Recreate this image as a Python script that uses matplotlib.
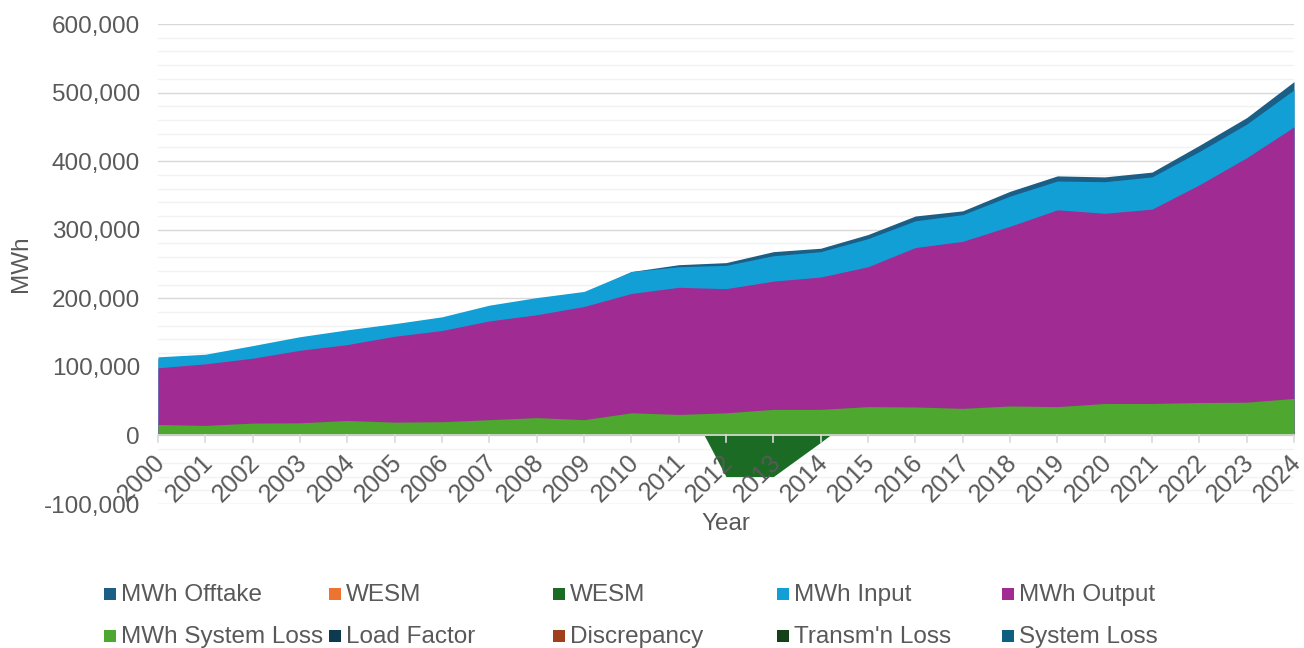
import numpy as np
import matplotlib
matplotlib.use("Agg")
import matplotlib.pyplot as plt
from matplotlib.patches import Rectangle
from matplotlib.ticker import MultipleLocator, FuncFormatter
from matplotlib.transforms import ScaledTranslation

years = np.arange(2000, 2025)

# overlapping (not stacked) areas, drawn in series order
mwh_offtake = [112000, 116000, 128000, 140000, 151000, 162000, 170000, 187000, 198000, 208000,
               239000, 249000, 252000, 268000, 273000, 293000, 320000, 327500, 356000, 378500,
               377000, 384000, 423000, 463500, 516000]
wesm_green = [np.nan] * 11 + [71000, -60000, -60000, -10000, 42000] + [np.nan] * 9
mwh_input = [114600, 118400, 131000, 144000, 154000, 163000, 173000, 190000, 201000, 210000,
             239000, 246000, 248000, 262000, 268000, 287000, 313000, 322000, 349000, 371000,
             370000, 377000, 414000, 454000, 504000]
mwh_output = [98600, 104400, 112600, 124200, 132500, 144600, 153000, 167000, 176000, 188000,
              207000, 216000, 214000, 225000, 231000, 246000, 274000, 283000, 305000, 329000,
              324000, 330000, 365500, 405000, 450000]
mwh_system_loss = [16000, 14600, 18000, 18400, 21800, 19400, 20000, 23000, 26000, 23000,
                   33000, 30600, 33000, 38000, 38000, 42000, 41500, 39500, 43000, 42000,
                   46600, 46600, 48000, 48500, 54000]

series_names = ["MWh Offtake", "WESM", "WESM", "MWh Input", "MWh Output",
                "MWh System Loss", "Load Factor", "Discrepancy", "Transm'n Loss", "System Loss"]
series_colors = ["#1B5E86", "#ED7331", "#1B6B25", "#129FD6", "#A02B93",
                 "#4EA72E", "#0E3A50", "#A0401A", "#164019", "#0F5F80"]

plt.rcParams["font.family"] = ["Liberation Sans", "DejaVu Sans"]
text_color = "#595959"

fig = plt.figure(figsize=(13.04, 6.48), dpi=100)
ax = fig.add_axes([158 / 1304, 1 - 504 / 648, (1294 - 158) / 1304, (504 - 24) / 648])

ax.fill_between(years, 0, mwh_offtake, color=series_colors[0], lw=0, zorder=2)
ax.fill_between(years, 0, wesm_green, color=series_colors[2], lw=0, zorder=2)
ax.fill_between(years, 0, mwh_input, color=series_colors[3], lw=0, zorder=2)
ax.fill_between(years, 0, mwh_output, color=series_colors[4], lw=0, zorder=2)
ax.fill_between(years, 0, mwh_system_loss, color=series_colors[5], lw=0, zorder=2)

ax.set_xlim(2000, 2024)
ax.set_ylim(-100000, 600000)
ax.yaxis.set_major_locator(MultipleLocator(100000))
ax.yaxis.set_minor_locator(MultipleLocator(20000))
ax.yaxis.set_major_formatter(FuncFormatter(lambda v, p: f"{int(v):,}"))
ax.grid(axis="y", which="major", color="#D9D9D9", lw=1.0)
ax.grid(axis="y", which="minor", color="#F2F2F2", lw=1.0)
ax.set_axisbelow(True)
ax.xaxis.set_zorder(5)  # year labels sit over the areas

for s in ax.spines.values():
    s.set_visible(False)
ax.axhline(0, color="#D9D9D9", lw=1.2, zorder=3)

ax.set_xticks(years)
ax.set_xticklabels([str(y) for y in years], rotation=45, ha="right",
                   rotation_mode="anchor", fontsize=18, color=text_color)
ax.tick_params(axis="x", length=0, pad=10)
# tick marks hanging from the zero line
for y in years:
    ax.plot([y, y], [0, -10000], color="#D9D9D9", lw=1.2, zorder=3, clip_on=False)
# move tick labels up to the zero line
shift = ScaledTranslation(-5 / 100, (504 - 436) / 100, fig.dpi_scale_trans)
for lbl in ax.get_xticklabels():
    lbl.set_transform(lbl.get_transform() + shift)

ax.tick_params(axis="y", which="both", length=0, pad=13, labelsize=17.5, labelcolor=text_color)

ax.set_ylabel("MWh", fontsize=17.5, color=text_color, labelpad=8)
fig.text(726 / 1304, 1 - 524 / 648, "Year", fontsize=17.5, color=text_color,
         ha="center", va="center")

# legend, 2 rows x 5 columns
col_x = [104, 329, 553, 777, 1002]
row_y = [595, 637]
for i, (name, col) in enumerate(zip(series_names, series_colors)):
    r, c = divmod(i, 5)
    x0 = col_x[c]
    yc = row_y[r]
    fig.patches.append(Rectangle((x0 / 1304, 1 - (yc + 5) / 648), 12 / 1304, 12 / 648,
                                 transform=fig.transFigure, facecolor=col, edgecolor="none"))
    fig.text((x0 + 17) / 1304, 1 - yc / 648, name, fontsize=17.5, color=text_color,
             ha="left", va="center")

fig.savefig("out.png", dpi=100)
